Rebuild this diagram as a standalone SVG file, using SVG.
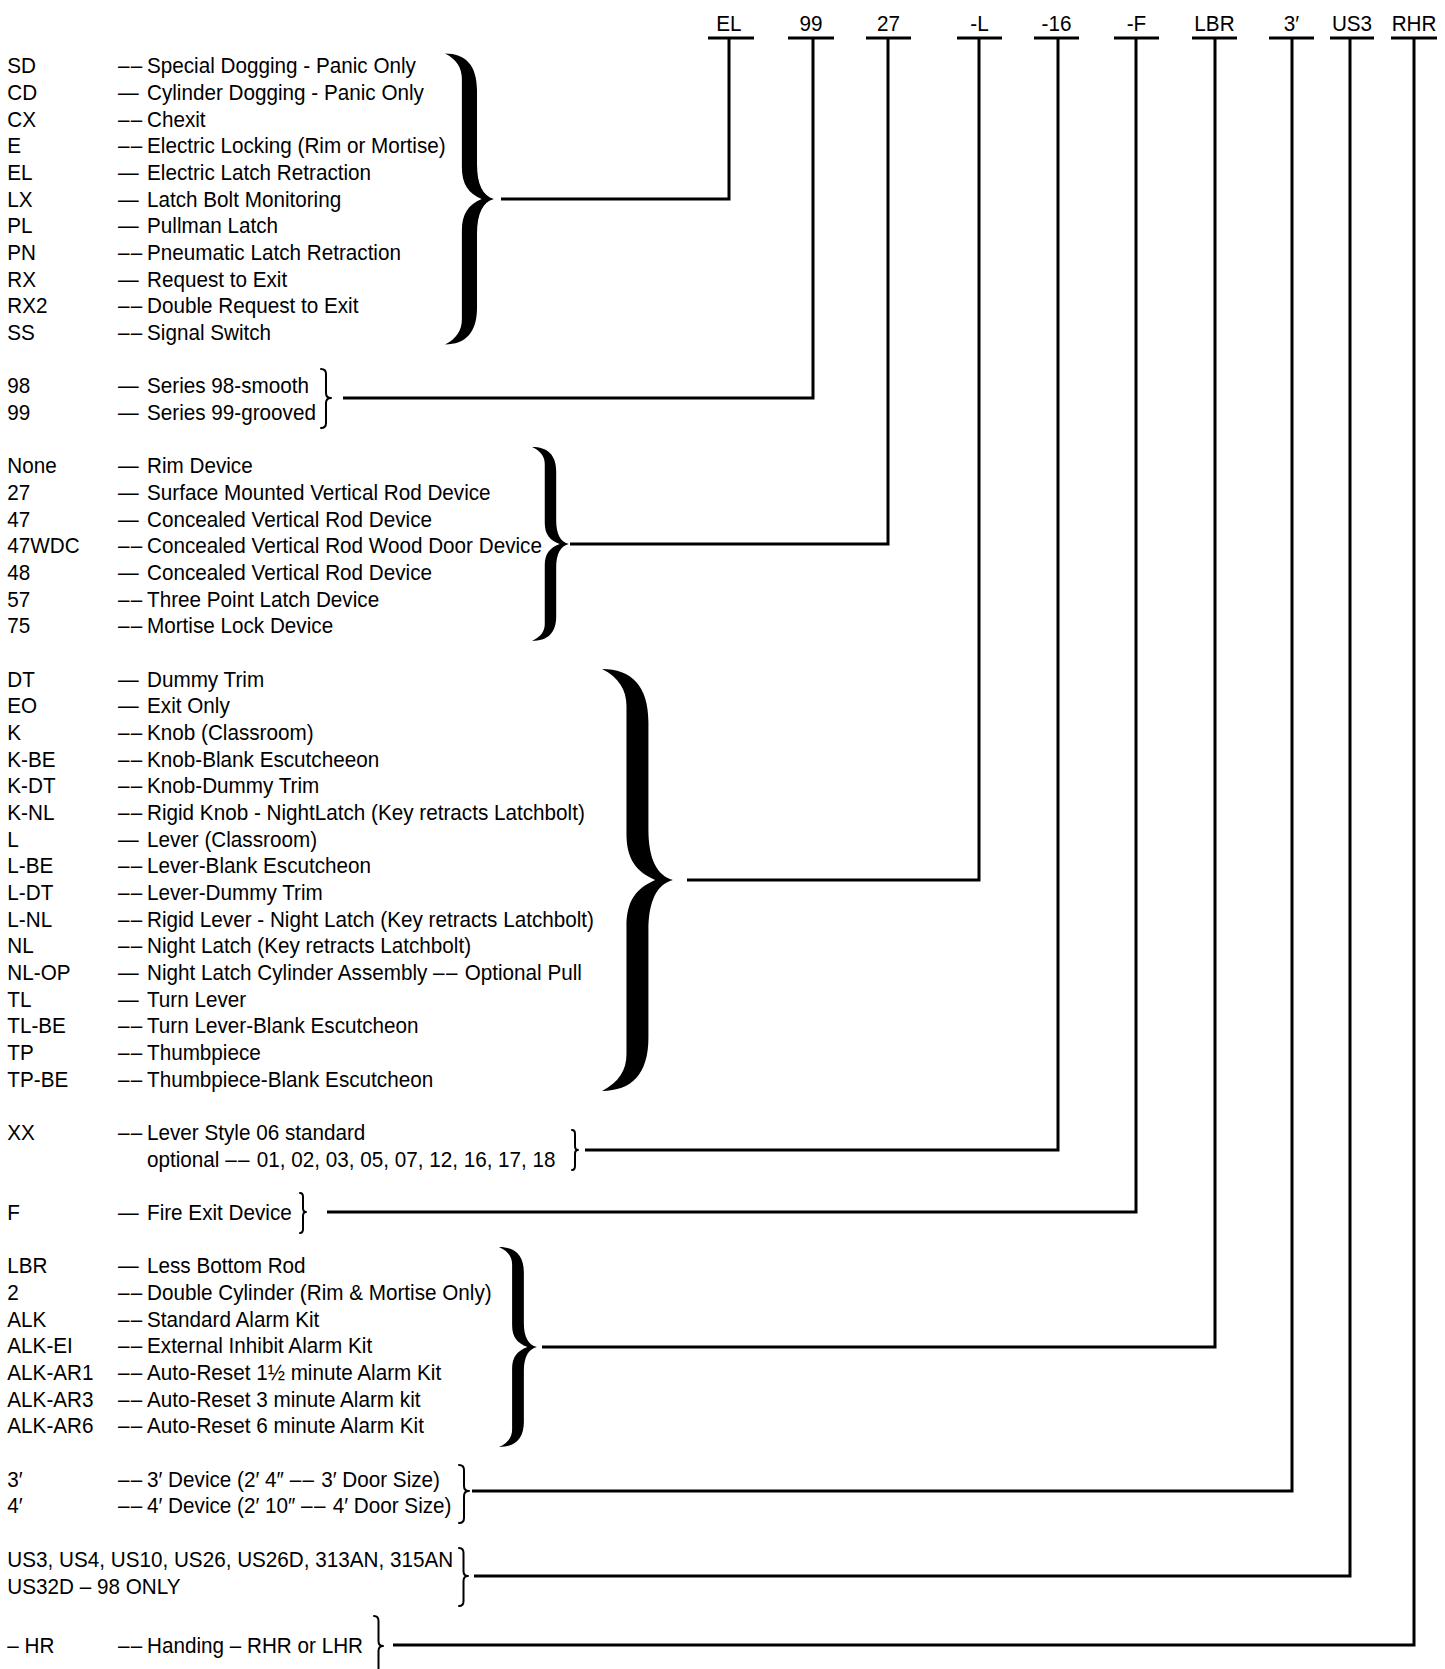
<svg xmlns="http://www.w3.org/2000/svg" xmlns:xlink="http://www.w3.org/1999/xlink" width="1445" height="1669" viewBox="0 0 1445 1669">
<style>
text { font-family: "Liberation Sans", Arial, sans-serif; font-size: 22px; fill: #000; transform: scaleX(0.94); }
.code { text-anchor: middle; }
.dd { letter-spacing: 1.5px; }
.ul { stroke: #000; stroke-width: 3; }
.conn { fill: none; stroke: #000; stroke-width: 3; stroke-linejoin: miter; }
.brace { fill: #000; }
.sbrace { fill: none; stroke: #000; stroke-width: 2; stroke-linejoin: round; stroke-linecap: round; }
</style>
<defs>
<path id="brace" d="M0,0 C7,0 11,4 11,12.6 L11,38 C11,45 13,49 16.8,50 C13,51 11,55 11,62 L11,87.4 C11,96 7,100 0,100 C4,98 5.8,95 5.8,91.3 L5.8,61 C5.8,55 8,52 12.6,50 C8,48 5.8,45 5.8,39 L5.8,8.7 C5.8,5 4,2 0,0 Z"/>
</defs>
<rect width="1445" height="1669" fill="#fff"/>

<g id="codes">
<g id="code-EL"><text class="code" x="775.5" y="31">EL</text><line class="ul" x1="708" y1="38" x2="754" y2="38"/></g>
<g id="code-99"><text class="code" x="862.8" y="31">99</text><line class="ul" x1="788" y1="38" x2="834" y2="38"/></g>
<g id="code-27"><text class="code" x="945.2" y="31">27</text><line class="ul" x1="866" y1="38" x2="911" y2="38"/></g>
<g id="code-L"><text class="code" x="1042" y="31">-L</text><line class="ul" x1="957" y1="38" x2="1002" y2="38"/></g>
<g id="code-16"><text class="code" x="1123.9" y="31">-16</text><line class="ul" x1="1034" y1="38" x2="1079" y2="38"/></g>
<g id="code-F"><text class="code" x="1209" y="31">-F</text><line class="ul" x1="1114" y1="38" x2="1159" y2="38"/></g>
<g id="code-LBR"><text class="code" x="1292" y="31">LBR</text><line class="ul" x1="1192" y1="38" x2="1237" y2="38"/></g>
<g id="code-3"><text class="code" x="1373.9" y="31">3′</text><line class="ul" x1="1269" y1="38" x2="1314" y2="38" stroke-width="4"/></g>
<g id="code-US3"><text class="code" x="1438.3" y="31">US3</text><line class="ul" x1="1330" y1="38" x2="1374" y2="38"/></g>
<g id="code-RHR"><text class="code" x="1504.3" y="31">RHR</text><line class="ul" x1="1391" y1="38" x2="1437" y2="38"/></g>
</g>

<g id="connectors">
<path class="conn" d="M501,199 H729 V38"/>
<path class="conn" d="M343,398 H813 V38"/>
<path class="conn" d="M570,544 H888 V38"/>
<path class="conn" d="M687,880 H979 V38"/>
<path class="conn" d="M585,1150 H1058 V38"/>
<path class="conn" d="M327,1212 H1136 V38"/>
<path class="conn" d="M542,1347 H1215 V38"/>
<path class="conn" d="M472,1491 H1292 V38"/>
<path class="conn" d="M474,1576 H1350 V38"/>
<path class="conn" d="M393,1645 H1414 V38"/>
</g>

<g id="group-options">
<text y="73.3"><tspan x="7.8">SD</tspan><tspan x="125.5" class="dd">––</tspan><tspan x="156.4">Special Dogging - Panic Only</tspan></text>
<text y="100"><tspan x="7.8">CD</tspan><tspan x="125.5">—</tspan><tspan x="156.4">Cylinder Dogging - Panic Only</tspan></text>
<text y="126.7"><tspan x="7.8">CX</tspan><tspan x="125.5" class="dd">––</tspan><tspan x="156.4">Chexit</tspan></text>
<text y="153.3"><tspan x="7.8">E</tspan><tspan x="125.5" class="dd">––</tspan><tspan x="156.4">Electric Locking (Rim or Mortise)</tspan></text>
<text y="180"><tspan x="7.8">EL</tspan><tspan x="125.5">—</tspan><tspan x="156.4">Electric Latch Retraction</tspan></text>
<text y="206.7"><tspan x="7.8">LX</tspan><tspan x="125.5">—</tspan><tspan x="156.4">Latch Bolt Monitoring</tspan></text>
<text y="233.3"><tspan x="7.8">PL</tspan><tspan x="125.5">—</tspan><tspan x="156.4">Pullman Latch</tspan></text>
<text y="260"><tspan x="7.8">PN</tspan><tspan x="125.5" class="dd">––</tspan><tspan x="156.4">Pneumatic Latch Retraction</tspan></text>
<text y="286.7"><tspan x="7.8">RX</tspan><tspan x="125.5">—</tspan><tspan x="156.4">Request to Exit</tspan></text>
<text y="313.3"><tspan x="7.8">RX2</tspan><tspan x="125.5" class="dd">––</tspan><tspan x="156.4">Double Request to Exit</tspan></text>
<text y="340"><tspan x="7.8">SS</tspan><tspan x="125.5" class="dd">––</tspan><tspan x="156.4">Signal Switch</tspan></text>
<use href="#brace" class="brace" transform="translate(445,53.5) scale(2.91)"/>
</g>

<g id="group-series">
<text y="393.3"><tspan x="7.8">98</tspan><tspan x="125.5">—</tspan><tspan x="156.4">Series 98-smooth</tspan></text>
<text y="420"><tspan x="7.8">99</tspan><tspan x="125.5">—</tspan><tspan x="156.4">Series 99-grooved</tspan></text>
<path class="sbrace" d="M321,369 Q326,369 326,374 L326,393 Q326,398 331,398 Q326,398 326,403 L326,423 Q326,428 321,428"/>
</g>

<g id="group-device">
<text y="473.3"><tspan x="7.8">None</tspan><tspan x="125.5">—</tspan><tspan x="156.4">Rim Device</tspan></text>
<text y="500"><tspan x="7.8">27</tspan><tspan x="125.5">—</tspan><tspan x="156.4">Surface Mounted Vertical Rod Device</tspan></text>
<text y="526.7"><tspan x="7.8">47</tspan><tspan x="125.5">—</tspan><tspan x="156.4">Concealed Vertical Rod Device</tspan></text>
<text y="553.3"><tspan x="7.8">47WDC</tspan><tspan x="125.5" class="dd">––</tspan><tspan x="156.4">Concealed Vertical Rod Wood Door Device</tspan></text>
<text y="580"><tspan x="7.8">48</tspan><tspan x="125.5">—</tspan><tspan x="156.4">Concealed Vertical Rod Device</tspan></text>
<text y="606.7"><tspan x="7.8">57</tspan><tspan x="125.5" class="dd">––</tspan><tspan x="156.4">Three Point Latch Device</tspan></text>
<text y="633.3"><tspan x="7.8">75</tspan><tspan x="125.5" class="dd">––</tspan><tspan x="156.4">Mortise Lock Device</tspan></text>
<use href="#brace" class="brace" transform="translate(532,447) scale(2.2,1.94)"/>
</g>

<g id="group-trim">
<text y="686.7"><tspan x="7.8">DT</tspan><tspan x="125.5">—</tspan><tspan x="156.4">Dummy Trim</tspan></text>
<text y="713.3"><tspan x="7.8">EO</tspan><tspan x="125.5">—</tspan><tspan x="156.4">Exit Only</tspan></text>
<text y="740"><tspan x="7.8">K</tspan><tspan x="125.5" class="dd">––</tspan><tspan x="156.4">Knob (Classroom)</tspan></text>
<text y="766.7"><tspan x="7.8">K-BE</tspan><tspan x="125.5" class="dd">––</tspan><tspan x="156.4">Knob-Blank Escutcheeon</tspan></text>
<text y="793.3"><tspan x="7.8">K-DT</tspan><tspan x="125.5" class="dd">––</tspan><tspan x="156.4">Knob-Dummy Trim</tspan></text>
<text y="820"><tspan x="7.8">K-NL</tspan><tspan x="125.5" class="dd">––</tspan><tspan x="156.4">Rigid Knob - NightLatch (Key retracts Latchbolt)</tspan></text>
<text y="846.7"><tspan x="7.8">L</tspan><tspan x="125.5">—</tspan><tspan x="156.4">Lever (Classroom)</tspan></text>
<text y="873.3"><tspan x="7.8">L-BE</tspan><tspan x="125.5" class="dd">––</tspan><tspan x="156.4">Lever-Blank Escutcheon</tspan></text>
<text y="900"><tspan x="7.8">L-DT</tspan><tspan x="125.5" class="dd">––</tspan><tspan x="156.4">Lever-Dummy Trim</tspan></text>
<text y="926.7"><tspan x="7.8">L-NL</tspan><tspan x="125.5" class="dd">––</tspan><tspan x="156.4">Rigid Lever - Night Latch (Key retracts Latchbolt)</tspan></text>
<text y="953.3"><tspan x="7.8">NL</tspan><tspan x="125.5" class="dd">––</tspan><tspan x="156.4">Night Latch (Key retracts Latchbolt)</tspan></text>
<text y="980"><tspan x="7.8">NL-OP</tspan><tspan x="125.5">—</tspan><tspan x="156.4">Night Latch Cylinder Assembly </tspan><tspan class="dd">––</tspan><tspan> Optional Pull</tspan></text>
<text y="1006.7"><tspan x="7.8">TL</tspan><tspan x="125.5">—</tspan><tspan x="156.4">Turn Lever</tspan></text>
<text y="1033.3"><tspan x="7.8">TL-BE</tspan><tspan x="125.5" class="dd">––</tspan><tspan x="156.4">Turn Lever-Blank Escutcheon</tspan></text>
<text y="1060"><tspan x="7.8">TP</tspan><tspan x="125.5" class="dd">––</tspan><tspan x="156.4">Thumbpiece</tspan></text>
<text y="1086.7"><tspan x="7.8">TP-BE</tspan><tspan x="125.5" class="dd">––</tspan><tspan x="156.4">Thumbpiece-Blank Escutcheon</tspan></text>
<use href="#brace" class="brace" transform="translate(602,669) scale(4.22)"/>
</g>

<g id="group-lever">
<text y="1140"><tspan x="7.8">XX</tspan><tspan x="125.5" class="dd">––</tspan><tspan x="156.4">Lever Style 06 standard</tspan></text>
<text y="1166.7"><tspan x="156.4">optional </tspan><tspan class="dd">––</tspan><tspan> 01, 02, 03, 05, 07, 12, 16, 17, 18</tspan></text>
<path class="sbrace" d="M572,1130 Q575,1130 575,1134 L575,1146 Q575,1150 578,1150 Q575,1150 575,1154 L575,1166 Q575,1170 572,1170"/>
</g>

<g id="group-fire">
<text y="1220"><tspan x="7.8">F</tspan><tspan x="125.5">—</tspan><tspan x="156.4">Fire Exit Device</tspan></text>
<path class="sbrace" d="M300,1193 Q303,1193 303,1197 L303,1208 Q303,1212 306,1212 Q303,1212 303,1216 L303,1229 Q303,1233 300,1233"/>
</g>

<g id="group-extras">
<text y="1273.3"><tspan x="7.8">LBR</tspan><tspan x="125.5">—</tspan><tspan x="156.4">Less Bottom Rod</tspan></text>
<text y="1300"><tspan x="7.8">2</tspan><tspan x="125.5" class="dd">––</tspan><tspan x="156.4">Double Cylinder (Rim &amp; Mortise Only)</tspan></text>
<text y="1326.7"><tspan x="7.8">ALK</tspan><tspan x="125.5" class="dd">––</tspan><tspan x="156.4">Standard Alarm Kit</tspan></text>
<text y="1353.3"><tspan x="7.8">ALK-EI</tspan><tspan x="125.5" class="dd">––</tspan><tspan x="156.4">External Inhibit Alarm Kit</tspan></text>
<text y="1380"><tspan x="7.8">ALK-AR1</tspan><tspan x="125.5" class="dd">––</tspan><tspan x="156.4">Auto-Reset 1½ minute Alarm Kit</tspan></text>
<text y="1406.7"><tspan x="7.8">ALK-AR3</tspan><tspan x="125.5" class="dd">––</tspan><tspan x="156.4">Auto-Reset 3 minute Alarm kit</tspan></text>
<text y="1433.3"><tspan x="7.8">ALK-AR6</tspan><tspan x="125.5" class="dd">––</tspan><tspan x="156.4">Auto-Reset 6 minute Alarm Kit</tspan></text>
<use href="#brace" class="brace" transform="translate(499,1247) scale(2.26,2.0)"/>
</g>

<g id="group-size">
<text y="1486.7"><tspan x="7.8">3′</tspan><tspan x="125.5" class="dd">––</tspan><tspan x="156.4">3′ Device (2′ 4″ </tspan><tspan class="dd">––</tspan><tspan> 3′ Door Size)</tspan></text>
<text y="1513.3"><tspan x="7.8">4′</tspan><tspan x="125.5" class="dd">––</tspan><tspan x="156.4">4′ Device (2′ 10″ </tspan><tspan class="dd">––</tspan><tspan> 4′ Door Size)</tspan></text>
<path class="sbrace" d="M459,1465 Q464,1465 464,1470 L464,1486 Q464,1491 469,1491 Q464,1491 464,1496 L464,1518 Q464,1523 459,1523"/>
</g>

<g id="group-finish">
<text y="1566.7"><tspan x="7.8">US3, US4, US10, US26, US26D, 313AN, 315AN</tspan></text>
<text y="1594"><tspan x="7.8">US32D – 98 ONLY</tspan></text>
<path class="sbrace" d="M459,1548 Q463.5,1548 463.5,1553 L463.5,1571 Q463.5,1576 468,1576 Q463.5,1576 463.5,1581 L463.5,1601 Q463.5,1606 459,1606"/>
</g>

<g id="group-handing">
<text y="1653"><tspan x="7.8">– HR</tspan><tspan x="125.5" class="dd">––</tspan><tspan x="156.4">Handing – RHR or LHR</tspan></text>
<path class="sbrace" d="M374,1616 Q378.5,1616 378.5,1621 L378.5,1641 Q378.5,1646 383,1646 Q378.5,1646 378.5,1651 L378.5,1671 Q378.5,1676 374,1676"/>
</g>
</svg>
